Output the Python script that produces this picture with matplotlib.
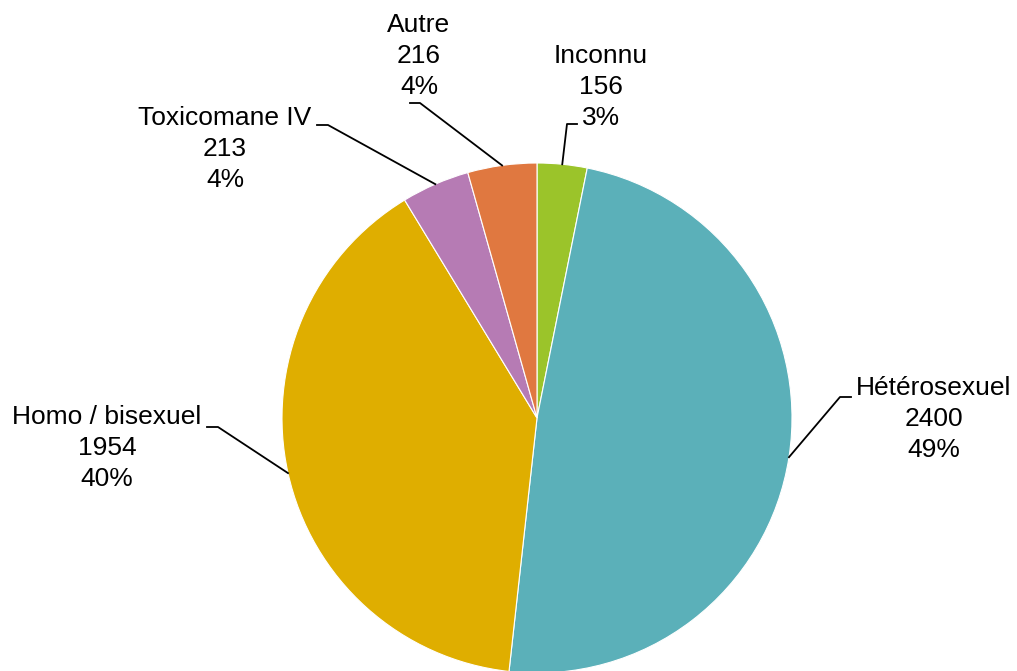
import numpy as np
import matplotlib.pyplot as plt

# data
labels = ["Inconnu", "Hétérosexuel", "Homo / bisexuel", "Toxicomane IV", "Autre"]
values = [156, 2400, 1954, 213, 216]
colors = ["#9BC42A", "#5BB0B9", "#DFAE00", "#B67BB4", "#E07840"]

# layout (pixels, y from bottom)
W, H = 1017, 671
cx, cy, r = 537, 671 - 418, 255
# label text centre and leader elbow for each slice
text_pos = [(601, 671 - 87), (934, 671 - 419), (107, 671 - 448), (225, 671 - 149), (419, 671 - 56)]
elbows = [((567, 671 - 124), (577, 671 - 124)),
          ((840, 671 - 397), (851, 671 - 397)),
          ((218, 671 - 427), (207, 671 - 427)),
          ((328, 671 - 125), (317, 671 - 125)),
          ((420, 671 - 103), (410, 671 - 103))]

plt.rcParams['font.family'] = ['Liberation Sans', 'DejaVu Sans']

fig = plt.figure(figsize=(W / 100, H / 100), dpi=100)
ax = fig.add_axes([0, 0, 1, 1])

wedges, _ = ax.pie(values, colors=colors, startangle=90, counterclock=False,
                   center=(cx, cy), radius=r,
                   wedgeprops=dict(edgecolor="white", linewidth=0.8))
ax.set_xlim(0, W)
ax.set_ylim(0, H)
ax.set_aspect("equal")
ax.axis("off")

total = sum(values)
for w, lab, v, (tx, ty), (e1, e2) in zip(wedges, labels, values, text_pos, elbows):
    ang = np.radians((w.theta1 + w.theta2) / 2)
    px, py = cx + r * np.cos(ang), cy + r * np.sin(ang)
    ax.plot([px, e1[0], e2[0]], [py, e1[1], e2[1]], color="black", lw=1.3, clip_on=False)
    pct = round(100 * v / total)
    ax.text(tx, ty, f"{lab}\n{v}\n{pct}%", ha="center", va="center",
            fontsize=19, linespacing=1.36)

fig.savefig("out.png", dpi=100)
